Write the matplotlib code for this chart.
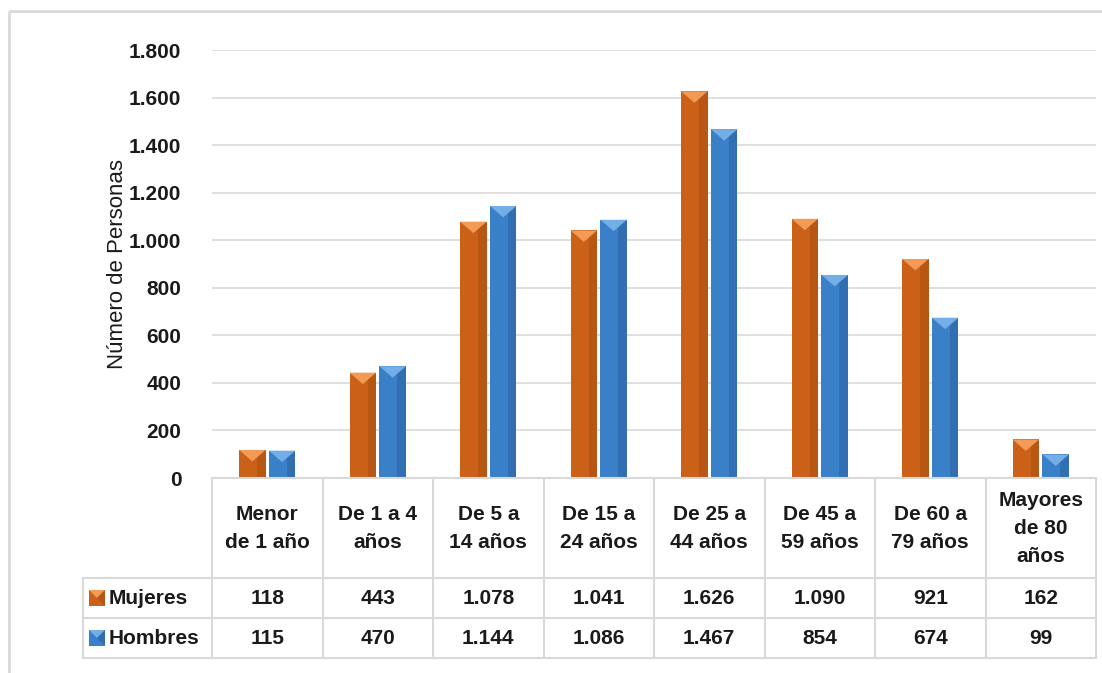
import matplotlib.pyplot as plt
from matplotlib.patches import Polygon, Rectangle
from matplotlib.ticker import FuncFormatter

plt.rcParams['font.family'] = ['Liberation Sans', 'DejaVu Sans']

grupos = ["Menor\nde 1 año", "De 1 a 4\naños", "De 5 a\n14 años", "De 15 a\n24 años",
          "De 25 a\n44 años", "De 45 a\n59 años", "De 60 a\n79 años", "Mayores\nde 80\naños"]
mujeres = [118, 443, 1078, 1041, 1626, 1090, 921, 162]
hombres = [115, 470, 1144, 1086, 1467, 854, 674, 99]
series = ["Mujeres", "Hombres"]

# base, darker side, lighter top
col_muj = ("#cb6118", "#a94e12", "#f39a55")
col_hom = ("#3a80c8", "#2a62a0", "#74aee6")

W, H = 1102, 673
fig = plt.figure(figsize=(W / 100, H / 100), dpi=100)

# plot area in pixels
x0, x1, y_top, y_bot = 212, 1096, 50, 478
ax = fig.add_axes([x0 / W, 1 - y_bot / H, (x1 - x0) / W, (y_bot - y_top) / H])

n = len(grupos)
bw = 0.24
off = 0.135
tri = 48


def sep(v):
    return f"{int(v):,}".replace(",", ".")


def bar3d(xc, vals, cols):
    base, dark, light = cols
    ax.bar(xc, vals, bw, color=base, zorder=3)
    for x, v in zip(xc, vals):
        ax.add_patch(Rectangle((x + bw * 0.18, 0), bw * 0.32, v, color=dark, alpha=0.55, lw=0, zorder=3))
        ax.add_patch(Polygon([(x - bw / 2, v), (x + bw / 2, v), (x, v - min(tri, v * 0.5))],
                             closed=True, color=light, lw=0, zorder=4))


xs = list(range(n))
bar3d([x - off for x in xs], mujeres, col_muj)
bar3d([x + off for x in xs], hombres, col_hom)

ax.set_xlim(-0.5, n - 0.5)
ax.set_ylim(0, 1800)
ax.set_yticks(range(0, 1801, 200))
ax.yaxis.set_major_formatter(FuncFormatter(lambda v, p: sep(v)))
ax.set_xticks([])
ax.tick_params(axis='y', length=0, pad=22, labelsize=15, labelcolor='#1a1a1a')
for t in ax.get_yticklabels():
    t.set_fontweight('bold')
ax.yaxis.grid(True, color='#d9d9d9', lw=1.2, zorder=0)
for s in ax.spines.values():
    s.set_visible(False)
ax.set_ylabel("Número de Personas", fontsize=16, labelpad=1, color='#1a1a1a')

# data table under the bars
tab = fig.add_axes([0, 0, 1, 1], facecolor='none')
tab.set_xlim(0, W)
tab.set_ylim(H, 0)
tab.axis('off')
lc = '#d9d9d9'
cw = (x1 - x0) / n
r1, r2, r3 = 578, 618, 658
leg_x = 83

tab.plot([x0, x1], [y_bot, y_bot], color=lc, lw=1.5)
tab.plot([leg_x, x1], [r1, r1], color=lc, lw=1.5)
tab.plot([leg_x, x1], [r2, r2], color=lc, lw=1.5)
tab.plot([leg_x, x1], [r3, r3], color=lc, lw=1.5)
tab.plot([leg_x, leg_x], [r1, r3], color=lc, lw=1.5)
for i in range(n + 1):
    xl = x0 + i * cw
    tab.plot([xl, xl], [y_bot, r3], color=lc, lw=1.5)

for i, g in enumerate(grupos):
    xc = x0 + (i + 0.5) * cw
    tab.text(xc, (y_bot + r1) / 2, g, ha='center', va='center', fontsize=15,
             fontweight='bold', linespacing=1.6, color='#1a1a1a')
    tab.text(xc, (r1 + r2) / 2, sep(mujeres[i]), ha='center', va='center', fontsize=15,
             fontweight='bold', color='#1a1a1a')
    tab.text(xc, (r2 + r3) / 2, sep(hombres[i]), ha='center', va='center', fontsize=15,
             fontweight='bold', color='#1a1a1a')

for (ya, yb), name, cols in zip([(r1, r2), (r2, r3)], series, [col_muj, col_hom]):
    yc = (ya + yb) / 2
    base, dark, light = cols
    tab.add_patch(Rectangle((89, yc - 8), 16, 16, color=base, lw=0))
    tab.add_patch(Polygon([(89, yc - 8), (105, yc - 8), (97, yc)], closed=True, color=light, lw=0))
    tab.add_patch(Polygon([(97, yc), (105, yc - 8), (105, yc + 8)], closed=True, color=dark, lw=0, alpha=0.6))
    tab.text(109, yc, name, ha='left', va='center', fontsize=15, fontweight='bold', color='#1a1a1a')

# outer frame
tab.add_patch(Rectangle((9, 11), W + 20, H, fill=False, ec='#d9d9d9', lw=2))

fig.savefig("out.png", dpi=100)
